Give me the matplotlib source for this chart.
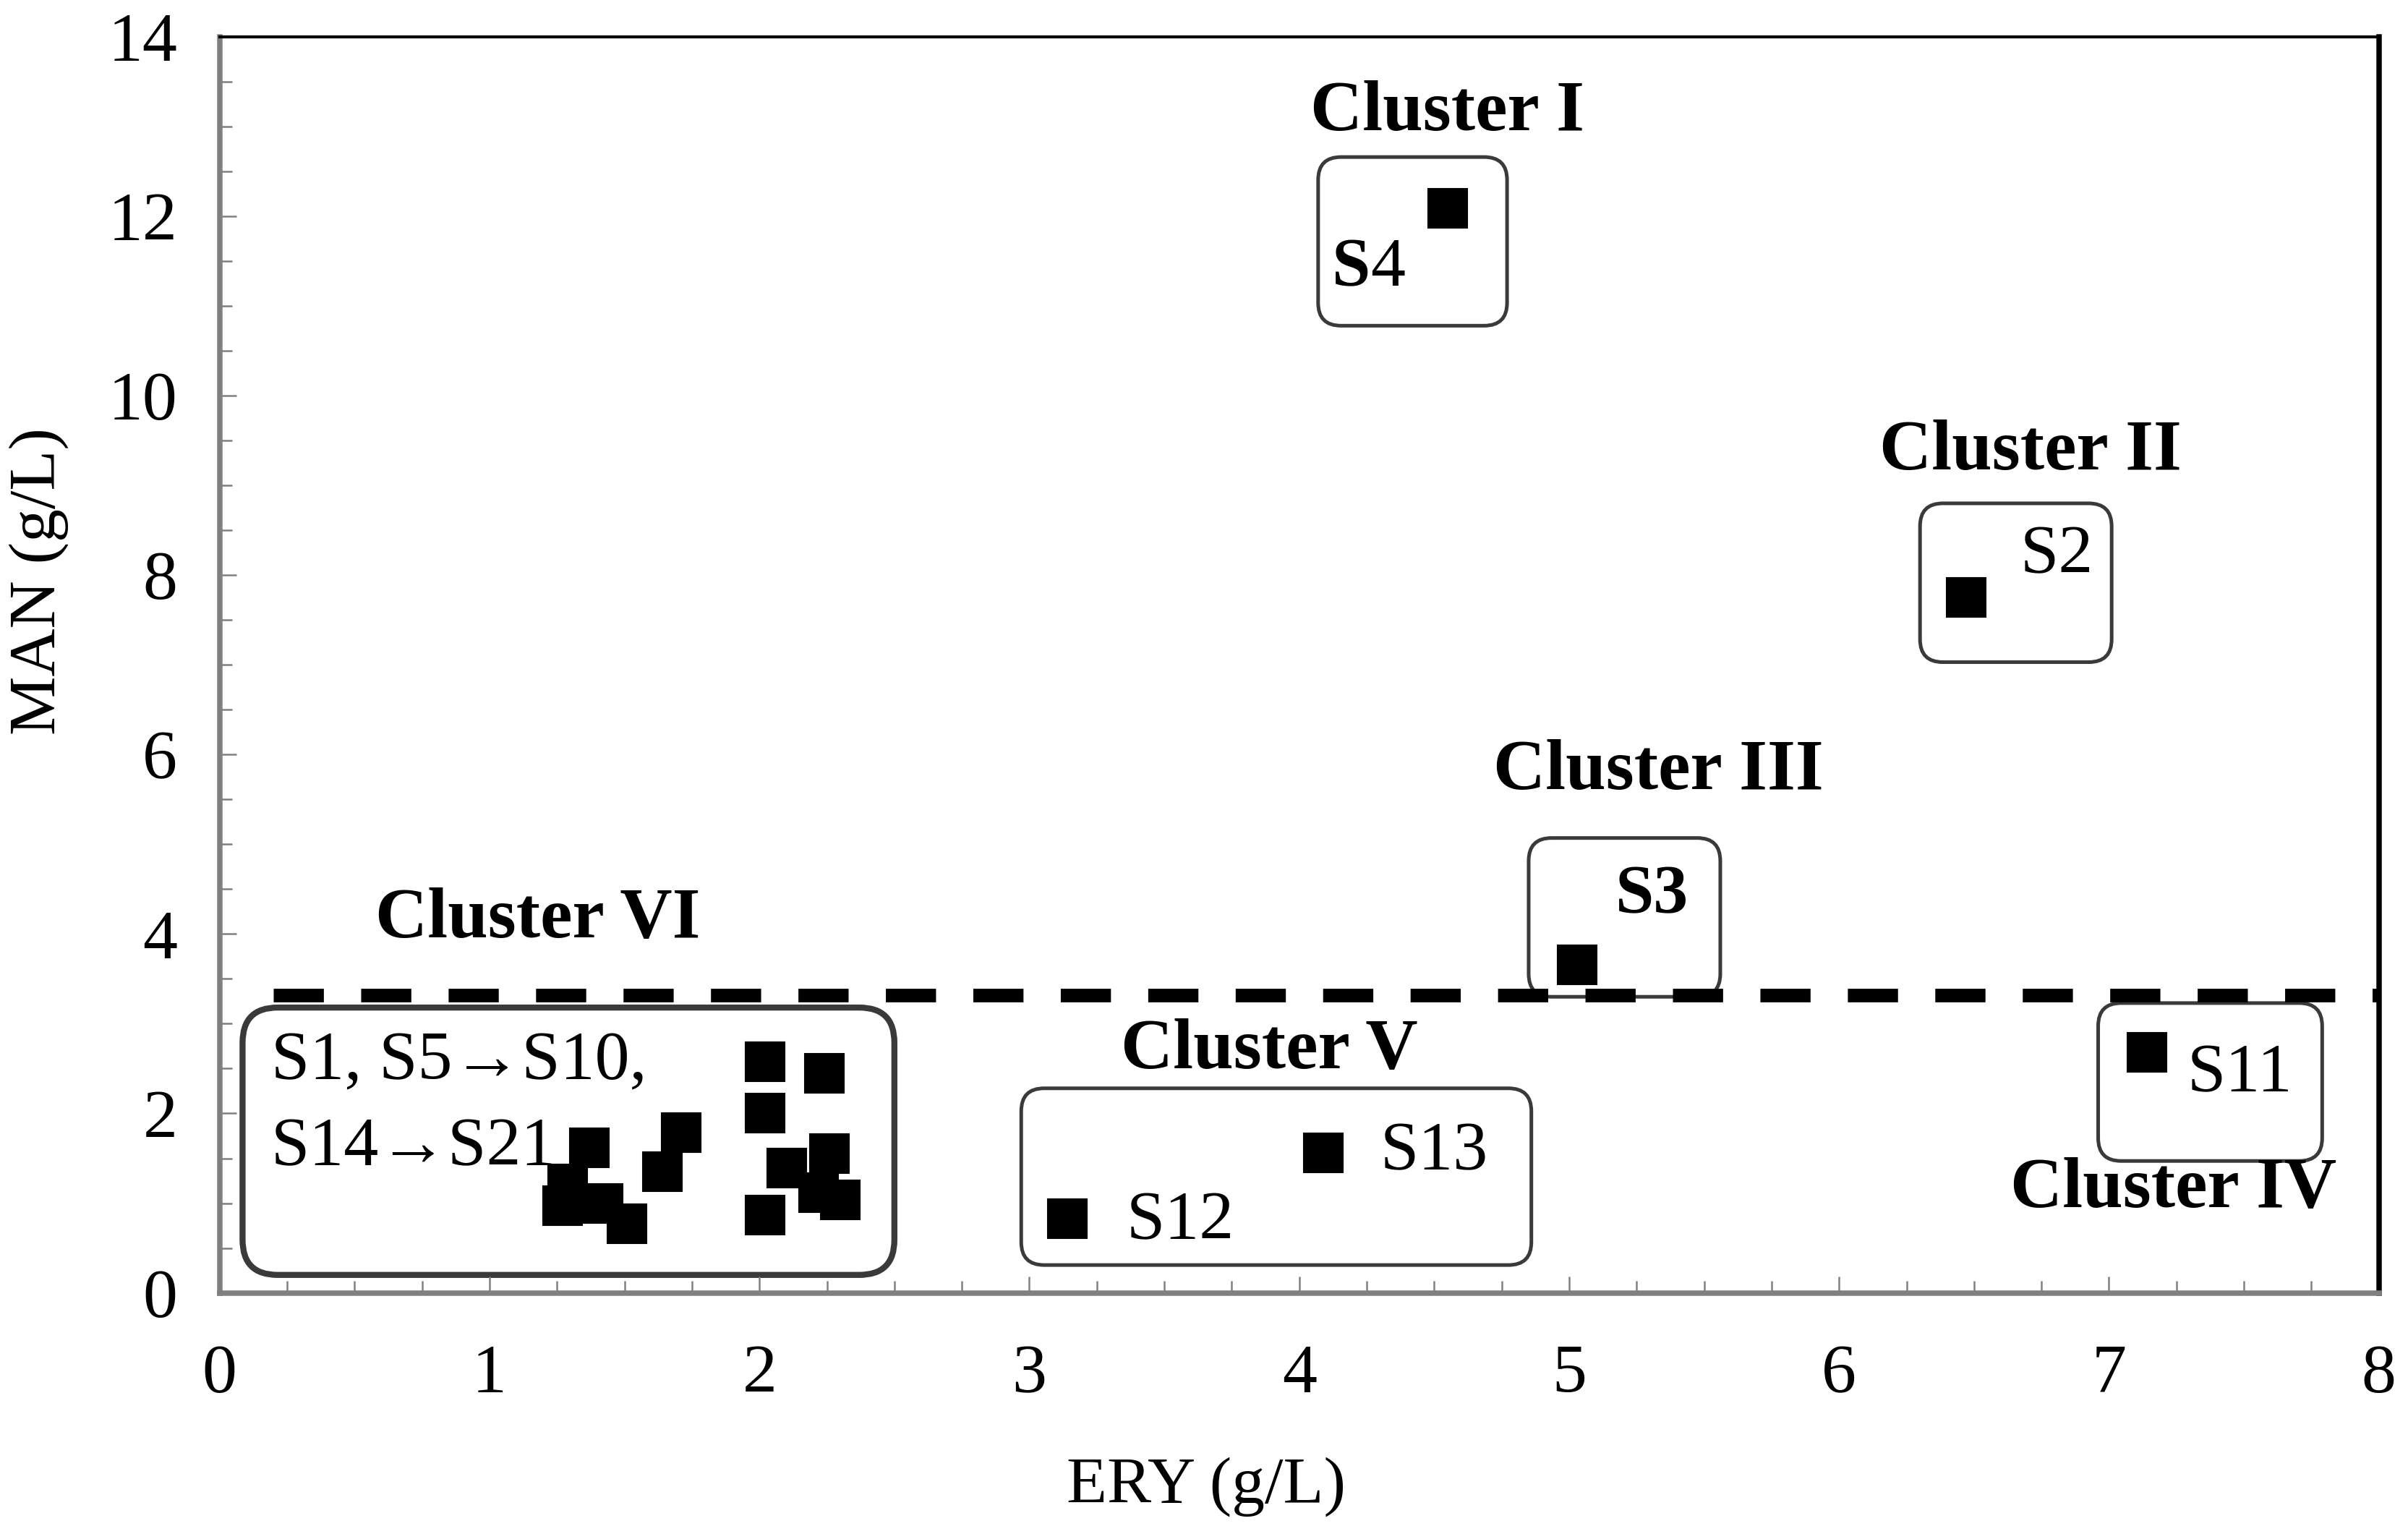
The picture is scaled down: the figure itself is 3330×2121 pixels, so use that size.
import matplotlib.pyplot as plt
from matplotlib.patches import FancyBboxPatch
from matplotlib.ticker import MultipleLocator

plt.rcParams['font.family'] = ['Liberation Serif', 'DejaVu Serif']

# cluster VI samples (S1, S5->S10, S14->S21)
vi_ery = [1.37, 1.29, 1.27, 1.42, 1.51, 1.64, 1.71, 2.02, 2.24, 2.02, 2.10, 2.26, 2.22, 2.30, 2.02]
vi_man = [1.62, 1.21, 0.97, 1.00, 0.77, 1.35, 1.79, 2.58, 2.45, 2.00, 1.39, 1.55, 1.12, 1.04, 0.87]

# single samples in the other clusters
other_names = ['S4', 'S2', 'S3', 'S11', 'S13', 'S12']
other_ery = [4.55, 6.47, 5.03, 7.14, 4.09, 3.14]
other_man = [12.09, 7.75, 3.66, 2.68, 1.56, 0.83]

# MAN threshold (dashed line)
threshold = 3.32

# cluster boxes and labels
cluster_names = ['Cluster I', 'Cluster II', 'Cluster III', 'Cluster IV', 'Cluster V', 'Cluster VI']
box_x0 = [4.07, 6.30, 4.85, 6.96, 2.97, 0.085]
box_x1 = [4.77, 7.01, 5.56, 7.79, 4.86, 2.50]
box_y0 = [10.78, 7.03, 3.30, 1.47, 0.31, 0.20]
box_y1 = [12.66, 8.80, 5.07, 3.23, 2.28, 3.18]
label_x = [4.55, 6.71, 5.33, 7.24, 3.89, 1.18]
label_y = [13.15, 9.37, 5.81, 1.15, 2.70, 4.16]

fig = plt.figure(figsize=(11.1, 7.07), dpi=300)
ax = fig.add_axes([0.0912, 0.1572, 0.8967, 0.8188])

ax.set_xlim(0, 8)
ax.set_ylim(0, 14)

# dashed threshold line
ax.plot([0.2, 8], [threshold, threshold], color='black', lw=4.5,
        dashes=[3.7, 2.75], dash_capstyle='butt', zorder=2, clip_on=False)

# rounded cluster boxes (aspect corrected so the corners look circular)
aspect = (14 / (0.8188 * 7.07)) / (8 / (0.8967 * 11.1))
for i, name in enumerate(cluster_names):
    big = name == 'Cluster VI'
    r = 0.13 if big else 0.085
    box = FancyBboxPatch((box_x0[i], box_y0[i]), box_x1[i] - box_x0[i], box_y1[i] - box_y0[i],
                         boxstyle=f"round,pad=0,rounding_size={r}", mutation_aspect=aspect,
                         facecolor='white', edgecolor='#3a3a3a', lw=2.0 if big else 1.2, zorder=1.5)
    ax.add_patch(box)
    ax.text(label_x[i], label_y[i], name, ha='center', va='center',
            fontsize=24, fontweight='bold', zorder=4)

ax.plot(vi_ery, vi_man, 's', color='black', markersize=13, mew=0.5, zorder=3)
ax.plot(other_ery, other_man, 's', color='black', markersize=13, mew=0.5, zorder=3)

# sample labels
fs = 23
t = ax.text(4.12, 11.41, 'S', fontsize=fs, fontweight='bold', va='center', ha='left')
ax.annotate('4', xy=(1, 0), xycoords=t, va='bottom', ha='left', fontsize=fs)
ax.text(6.67, 8.21, 'S2', fontsize=fs, va='center', ha='left')
ax.text(5.17, 4.42, 'S3', fontsize=fs, fontweight='bold', va='center', ha='left')
ax.text(7.29, 2.43, 'S11', fontsize=fs, va='center', ha='left')
ax.text(4.30, 1.56, 'S13', fontsize=fs, va='center', ha='left')
ax.text(3.36, 0.79, 'S12', fontsize=fs, va='center', ha='left')
ax.text(0.19, 2.57, 'S1, S5\u2192S10,', fontsize=fs, va='center', ha='left', zorder=4)
ax.text(0.19, 1.61, 'S14\u2192S21', fontsize=fs, va='center', ha='left', zorder=4)

# axes styling
ax.xaxis.set_major_locator(MultipleLocator(1))
ax.xaxis.set_minor_locator(MultipleLocator(0.25))
ax.yaxis.set_major_locator(MultipleLocator(2))
ax.yaxis.set_minor_locator(MultipleLocator(0.5))
ax.tick_params(which='both', direction='in', color='#808080', width=0.6)
ax.tick_params(which='major', length=5.5, labelsize=23)
ax.tick_params(which='minor', length=4)
ax.tick_params(axis='y', which='major', pad=14)
ax.tick_params(axis='x', which='major', pad=17)
for side in ['left', 'bottom']:
    ax.spines[side].set_color('#808080')
    ax.spines[side].set_linewidth(1.8)
ax.spines['top'].set_linewidth(1.0)
ax.spines['right'].set_linewidth(1.8)

fig.text(0.501, 0.031, 'ERY (g/L)', ha='center', va='center', fontsize=22)
fig.text(0.016, 0.621, 'MAN (g/L)', ha='center', va='center', rotation=90, fontsize=22)

fig.savefig('out.png', dpi=300)
